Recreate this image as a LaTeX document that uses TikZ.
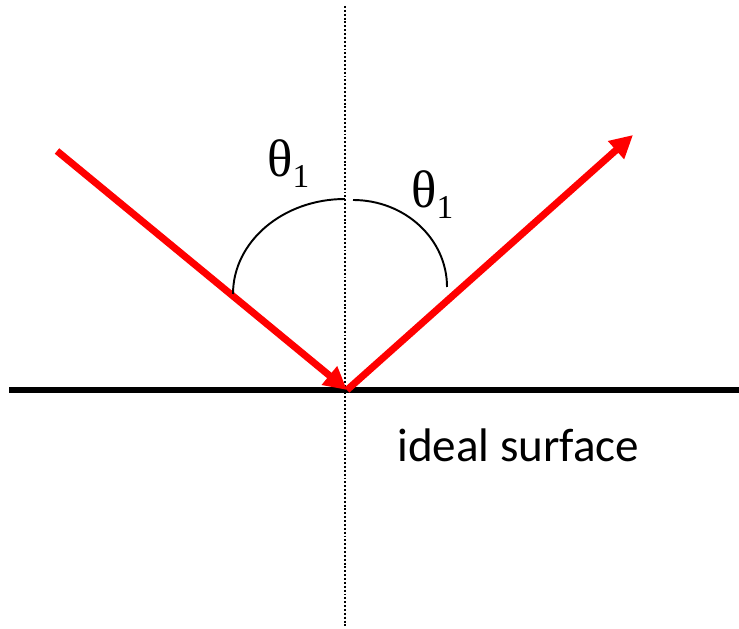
\documentclass[tikz,border=0pt]{standalone}
\usepackage{fontspec}
\setmainfont{Carlito}
\newfontfamily\thetafont{Liberation Serif}
\usetikzlibrary{arrows.meta}

\begin{document}
\begin{tikzpicture}[x=0.02cm, y=0.02cm, every node/.style={font=\fontsize{26.8}{32}\selectfont, inner sep=0pt},
	ray/.style={red, line width=4pt, -{Triangle[length=13pt, width=13pt]}},
	angle/.style={font=\thetafont\fontsize{30}{34}\selectfont, anchor=base west}]
	\useasboundingbox (0,0) rectangle (739,628);
	\coordinate (O) at (347,238);
	\coordinate (in) at (57,477);
	\coordinate (out) at (633,493);
	\coordinate (S1) at (9,238);
	\coordinate (S2) at (739,238);
	\draw[line width=3pt] (S1) -- (S2);
	\draw[line width=1pt, dash pattern=on 1.1pt off 1.1pt] (345,622) -- (345,0);
	\draw[ray] (in) -- (O);
	\draw[ray] (O) -- (out);
	\draw[line width=1.1pt] (233,334) arc[start angle=180, end angle=90, x radius=112, y radius=95];
	\draw[line width=1.1pt] (353,428) arc[start angle=90, end angle=0, x radius=94, y radius=87];
	\node[angle] (t1) at (267,451) {θ\raisebox{-6pt}{\fontsize{19}{19}\selectfont 1}};
	\node[angle] (t2) at (411,420) {θ\raisebox{-6pt}{\fontsize{19}{19}\selectfont 1}};
	\node[anchor=base west] (surf) at (397,166) {ideal surface};
\end{tikzpicture}
\end{document}
